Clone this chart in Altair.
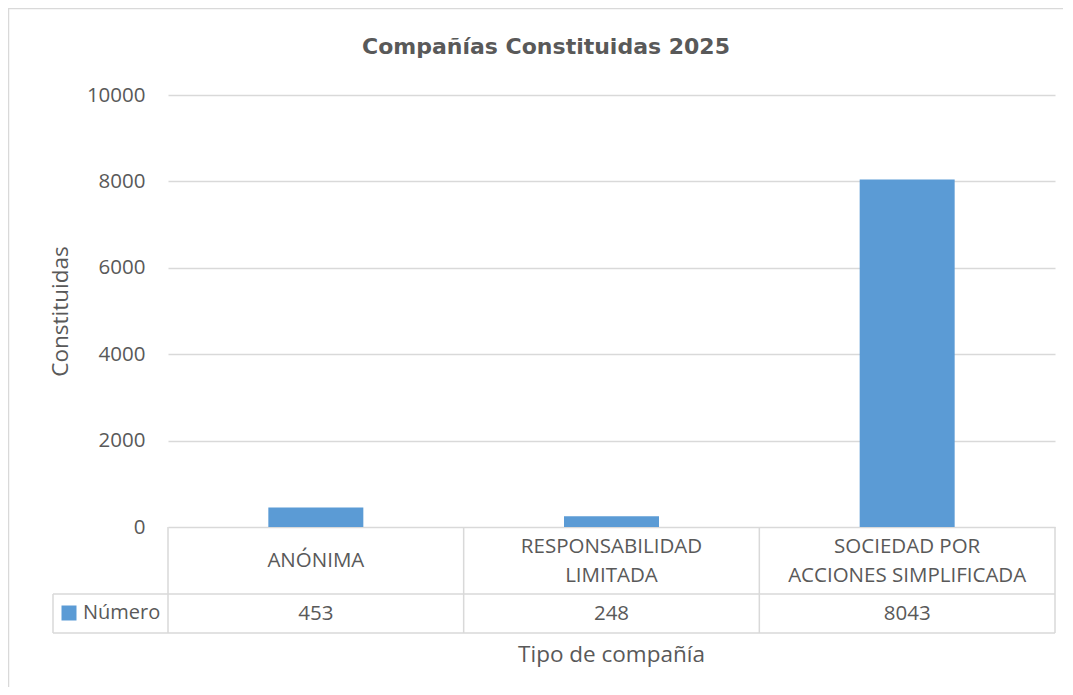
import altair as alt
import pandas as pd

# ---- data ----
categorias = ["ANÓNIMA", "RESPONSABILIDAD\nLIMITADA", "SOCIEDAD POR\nACCIONES SIMPLIFICADA"]
valores = [453, 248, 8043]
serie = "Número"
y_ticks = [0, 2000, 4000, 6000, 8000, 10000]
titulo = "Compañías Constituidas 2025"
titulo_x = "Tipo de compañía"
titulo_y = "Constituidas"

df = pd.DataFrame({"cat": categorias, "valor": valores, "serie": [serie] * len(categorias)})
decor = pd.DataFrame({"titulo": [titulo], "tx": [titulo_x]})

GRAY = "#595959"
LINE = "#d9d9d9"
BLUE = "#5B9BD5"
FONT = "Open Sans"
FS = 20.5
W, H = 887, 432

xscale = alt.Scale(paddingInner=0, paddingOuter=0)

base = alt.Chart(df)

bars = base.mark_bar(size=95).encode(
    x=alt.X("cat:N", sort=categorias, scale=xscale, axis=None),
    y=alt.Y("valor:Q", scale=alt.Scale(domain=[0, 10000]),
            axis=alt.Axis(values=y_ticks, format="d", grid=True, gridColor=LINE, gridWidth=1.5,
                          domain=False, ticks=False, labelPadding=23,
                          labelFont=FONT, labelFontSize=FS, labelColor=GRAY,
                          title=titulo_y, titleX=-108, titleY=216, titleAngle=270,
                          titleBaseline="middle", titleAlign="center",
                          titleFont=FONT, titleFontSize=22.5, titleFontWeight="normal",
                          titleColor=GRAY)),
    color=alt.Color("serie:N", scale=alt.Scale(range=[BLUE]),
                    legend=alt.Legend(title=None, orient="none", legendX=-109, legendY=508,
                                      symbolType="square", symbolSize=225, symbolStrokeWidth=0,
                                      labelFont=FONT, labelFontSize=20, labelColor=GRAY,
                                      labelOffset=4, padding=0)),
)

cat_text = base.transform_calculate(
    ypix="466 - (length(split(datum.cat, '\\n')) - 1) * 14.5"
).mark_text(lineBreak="\n", font=FONT, fontSize=FS, color=GRAY,
            baseline="middle", lineHeight=29).encode(
    x=alt.X("cat:N", sort=categorias, scale=xscale, axis=None),
    y=alt.Y("ypix:Q", scale=None),
    text="cat:N",
)

val_text = base.mark_text(font=FONT, fontSize=FS, color=GRAY, baseline="middle").encode(
    x=alt.X("cat:N", sort=categorias, scale=xscale, axis=None),
    y=alt.value(518.5),
    text="valor:Q",
)

vlines = base.mark_rule(color=LINE, strokeWidth=1.5).encode(
    x=alt.X("cat:N", sort=categorias, scale=xscale, bandPosition=0, axis=None),
    y=alt.value(432), y2=alt.value(538),
)

d = alt.Chart(decor)
rule_right = d.mark_rule(color=LINE, strokeWidth=1.5).encode(
    x=alt.value(W), y=alt.value(432), y2=alt.value(538))
rule_mid = d.mark_rule(color=LINE, strokeWidth=1.5).encode(
    x=alt.value(-115), x2=alt.value(W), y=alt.value(499))
rule_bot = d.mark_rule(color=LINE, strokeWidth=1.5).encode(
    x=alt.value(-115), x2=alt.value(W), y=alt.value(538))
rule_leg = d.mark_rule(color=LINE, strokeWidth=1.5).encode(
    x=alt.value(-115), y=alt.value(499), y2=alt.value(538))
border_left = d.mark_rule(color=LINE, strokeWidth=1.5).encode(
    x=alt.value(-159.5), y=alt.value(-86.5), y2=alt.value(600))
border_top = d.mark_rule(color=LINE, strokeWidth=1.5).encode(
    x=alt.value(-160), x2=alt.value(W + 20), y=alt.value(-86.5))

title_text = d.mark_text(font="DejaVu Sans", fontSize=22, fontWeight="bold", color=GRAY,
                         baseline="middle", align="center").encode(
    x=alt.value(378), y=alt.value(-48), text="titulo:N")
xtitle_text = d.mark_text(font=FONT, fontSize=22.5, color=GRAY,
                          baseline="middle", align="center").encode(
    x=alt.value(W / 2), y=alt.value(560), text="tx:N")

chart = alt.layer(
    bars, cat_text, val_text, vlines, rule_right, rule_mid, rule_bot, rule_leg,
    border_left, border_top, title_text, xtitle_text,
).properties(
    width=W, height=H,
    autosize=alt.AutoSizeParams(type="none"),
    padding={"left": 160, "top": 87, "right": 8, "bottom": 160},
).configure_view(stroke=None)

chart.save("out.html", embed_options={"renderer": "svg", "actions": False})
